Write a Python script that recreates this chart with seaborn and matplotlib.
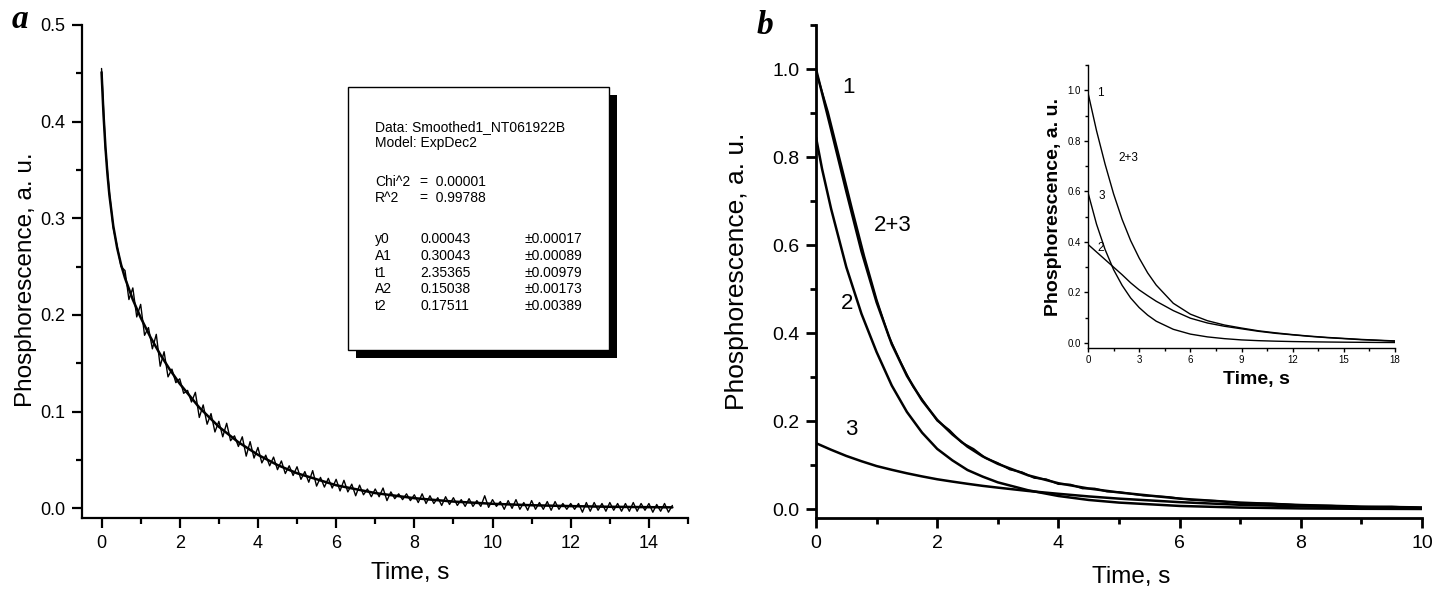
import numpy as np
import pandas as pd
import matplotlib
matplotlib.use("Agg")
import matplotlib.pyplot as plt
import matplotlib.patheffects as pe
from matplotlib.patches import Rectangle
from matplotlib.ticker import MultipleLocator
import seaborn as sns

# ---- panel a: smoothed decay data ----
t_data = [0.0, 0.1, 0.2, 0.3, 0.4, 0.5, 0.6, 0.7, 0.8, 0.9,
          1.0, 1.1, 1.2, 1.3, 1.4, 1.5, 1.6, 1.7, 1.8, 1.9,
          2.0, 2.1, 2.2, 2.3, 2.4, 2.5, 2.6, 2.7, 2.8, 2.9,
          3.0, 3.1, 3.2, 3.3, 3.4, 3.5, 3.6, 3.7, 3.8, 3.9,
          4.0, 4.1, 4.2, 4.3, 4.4, 4.5, 4.6, 4.7, 4.8, 4.9,
          5.0, 5.1, 5.2, 5.3, 5.4, 5.5, 5.6, 5.7, 5.8, 5.9,
          6.0, 6.1, 6.2, 6.3, 6.4, 6.5, 6.6, 6.7, 6.8, 6.9,
          7.0, 7.1, 7.2, 7.3, 7.4, 7.5, 7.6, 7.7, 7.8, 7.9,
          8.0, 8.1, 8.2, 8.3, 8.4, 8.5, 8.6, 8.7, 8.8, 8.9,
          9.0, 9.1, 9.2, 9.3, 9.4, 9.5, 9.6, 9.7, 9.8, 9.9,
          10.0, 10.1, 10.2, 10.3, 10.4, 10.5, 10.6, 10.7, 10.8, 10.9,
          11.0, 11.1, 11.2, 11.3, 11.4, 11.5, 11.6, 11.7, 11.8, 11.9,
          12.0, 12.1, 12.2, 12.3, 12.4, 12.5, 12.6, 12.7, 12.8, 12.9,
          13.0, 13.1, 13.2, 13.3, 13.4, 13.5, 13.6, 13.7, 13.8, 13.9,
          14.0, 14.1, 14.2, 14.3, 14.4, 14.5, 14.6]
y_data = [0.455, 0.372, 0.327, 0.290, 0.271, 0.250, 0.246, 0.216, 0.228, 0.198,
          0.211, 0.179, 0.187, 0.165, 0.180, 0.147, 0.162, 0.136, 0.144, 0.130,
          0.134, 0.119, 0.122, 0.110, 0.120, 0.094, 0.107, 0.087, 0.098, 0.079,
          0.090, 0.074, 0.088, 0.070, 0.075, 0.064, 0.074, 0.054, 0.069, 0.052,
          0.063, 0.047, 0.055, 0.044, 0.053, 0.040, 0.049, 0.036, 0.044, 0.034,
          0.043, 0.030, 0.038, 0.027, 0.039, 0.023, 0.032, 0.022, 0.031, 0.021,
          0.030, 0.018, 0.029, 0.017, 0.025, 0.013, 0.024, 0.014, 0.020, 0.012,
          0.020, 0.012, 0.021, 0.008, 0.017, 0.010, 0.015, 0.009, 0.015, 0.008,
          0.014, 0.006, 0.015, 0.005, 0.013, 0.005, 0.011, 0.003, 0.012, 0.004,
          0.011, 0.003, 0.009, 0.002, 0.010, 0.002, 0.008, 0.002, 0.013, 0.001,
          0.009, 0.002, 0.007, -0.001, 0.008, 0.000, 0.009, -0.001, 0.006, -0.002,
          0.008, -0.001, 0.006, -0.001, 0.007, -0.002, 0.007, -0.001, 0.005, -0.001,
          0.005, -0.001, 0.005, -0.004, 0.006, -0.003, 0.006, -0.002, 0.005, -0.003,
          0.006, -0.002, 0.005, -0.003, 0.005, -0.003, 0.006, -0.003, 0.005, -0.002,
          0.005, -0.004, 0.004, -0.003, 0.005, -0.004, 0.003]

# ExpDec2 fit curve
t_fit = [0, 0.05, 0.1, 0.15, 0.2, 0.3, 0.4, 0.5, 0.6, 0.8, 1.0, 1.25, 1.5, 1.75,
         2.0, 2.5, 3.0, 3.5, 4.0, 4.5, 5, 6, 7, 8, 9, 10, 11, 12, 13, 14, 14.6]
y_fit = [0.4512, 0.4076, 0.3733, 0.3462, 0.3244, 0.2920, 0.2692, 0.2520, 0.2382,
         0.2159, 0.1974, 0.1771, 0.1593, 0.1433, 0.1289, 0.1043, 0.0844, 0.0684,
         0.0554, 0.0448, 0.0363, 0.0239, 0.0158, 0.0105, 0.0070, 0.0047, 0.0032,
         0.0023, 0.0016, 0.0012, 0.0010]

fit_lines = [("Data: Smoothed1_NT061922B", "", ""),
             ("Model: ExpDec2", "", ""),
             ("Chi^2", "=  0.00001", ""),
             ("R^2", "=  0.99788", ""),
             ("y0", "0.00043", "\u00b10.00017"),
             ("A1", "0.30043", "\u00b10.00089"),
             ("t1", "2.35365", "\u00b10.00979"),
             ("A2", "0.15038", "\u00b10.00173"),
             ("t2", "0.17511", "\u00b10.00389")]

# ---- panel b: decay components ----
t_b = [0, 0.1, 0.25, 0.5, 0.75, 1.0, 1.25, 1.5, 1.75, 2.0, 2.25, 2.5, 2.75,
       3.0, 3.5, 4.0, 4.5, 5.0, 6.0, 7.0, 8.0, 9.0, 10.0]
y_sum = [1.0, 0.945, 0.862, 0.722, 0.586, 0.47, 0.375, 0.303, 0.247, 0.203, 0.170,
         0.142, 0.120, 0.103, 0.077, 0.059, 0.047, 0.038, 0.024, 0.015, 0.0095,
         0.006, 0.004]
y_comp2 = [0.845, 0.773, 0.682, 0.550, 0.444, 0.357, 0.281, 0.221, 0.174, 0.137,
           0.111, 0.089, 0.074, 0.061, 0.043, 0.030, 0.021, 0.015, 0.0074, 0.0037,
           0.0018, 0.0009, 0.0005]
y_comp3 = [0.150, 0.144, 0.135, 0.121, 0.109, 0.098, 0.0895, 0.0816, 0.0745,
           0.068, 0.0627, 0.0577, 0.053, 0.049, 0.0414, 0.035, 0.029, 0.024,
           0.016, 0.010, 0.0065, 0.004, 0.0025]

t_meas = [0.0, 0.2, 0.4, 0.6, 0.8, 1.0, 1.2, 1.4, 1.6, 1.8, 2.0, 2.2, 2.4, 2.6,
          2.8, 3.0, 3.2, 3.4, 3.6, 3.8, 4.0, 4.2, 4.4, 4.6, 4.8, 5.0, 5.4, 5.8,
          6.2, 6.6, 7.0, 7.5, 8.0, 8.5, 9.0, 9.5, 10.0]
y_meas = [0.995, 0.902, 0.792, 0.681, 0.574, 0.477, 0.393, 0.333, 0.279, 0.240,
          0.201, 0.180, 0.152, 0.137, 0.116, 0.105, 0.090, 0.084, 0.071, 0.068,
          0.057, 0.056, 0.047, 0.047, 0.040, 0.039, 0.031, 0.028, 0.021, 0.019,
          0.014, 0.013, 0.009, 0.008, 0.005, 0.006, 0.003]

# ---- inset ----
t_in = [0, 0.5, 1, 1.5, 2, 2.5, 3, 3.5, 4, 5, 6, 7, 8, 9, 10, 11, 12, 13, 14,
        15, 16, 17, 18]
y_in_sum = [0.99, 0.84, 0.708, 0.59, 0.489, 0.405, 0.336, 0.277, 0.229, 0.157,
            0.114, 0.088, 0.071, 0.059, 0.048, 0.040, 0.033, 0.027, 0.022,
            0.018, 0.014, 0.011, 0.008]
y_in_2 = [0.39, 0.36, 0.33, 0.30, 0.27, 0.238, 0.21, 0.187, 0.165, 0.128, 0.098,
          0.079, 0.066, 0.056, 0.046, 0.038, 0.032, 0.026, 0.021, 0.017, 0.013,
          0.010, 0.007]
y_in_3 = [0.595, 0.47, 0.37, 0.29, 0.228, 0.178, 0.14, 0.11, 0.086, 0.054,
          0.035, 0.024, 0.017, 0.012, 0.009, 0.007, 0.0055, 0.0045, 0.0037,
          0.003, 0.0025, 0.002, 0.0017]

sns.set_theme(style="ticks")
plt.rcParams["font.family"] = ["Liberation Sans", "DejaVu Sans"]
plt.rcParams["text.color"] = "black"
plt.rcParams["axes.labelcolor"] = "black"

W, H = 1453, 597
fig = plt.figure(figsize=(W / 100, H / 100), dpi=100)
ax_a = fig.add_axes([82 / W, 1 - 518 / H, 606 / W, 493 / H])
ax_b = fig.add_axes([816 / W, 1 - 518 / H, 606 / W, 493 / H])
ax_in = fig.add_axes([1088 / W, 1 - 348 / H, 307 / W, 283 / H])


def style_axis(ax, lw, major_len, minor_len, size, pad):
    sns.despine(ax=ax)
    for s in ("left", "bottom"):
        ax.spines[s].set_linewidth(lw)
        ax.spines[s].set_color("black")
    ax.tick_params(which="major", direction="out", length=major_len, width=lw,
                   labelsize=size, colors="black", pad=pad)
    ax.tick_params(which="minor", direction="out", length=minor_len, width=lw,
                   colors="black")
    ax.set_facecolor("white")


# panel a
sns.lineplot(x=t_data, y=y_data, ax=ax_a, color="black", lw=1.0, sort=False)
sns.lineplot(x=t_fit, y=y_fit, ax=ax_a, color="black", lw=1.8, sort=False)
ax_a.set_xlim(-0.5, 15)
ax_a.set_ylim(-0.01, 0.5)
ax_a.xaxis.set_major_locator(MultipleLocator(2))
ax_a.xaxis.set_minor_locator(MultipleLocator(1))
ax_a.yaxis.set_major_locator(MultipleLocator(0.1))
ax_a.yaxis.set_minor_locator(MultipleLocator(0.05))
ax_a.yaxis.set_major_formatter(plt.FormatStrFormatter("%.1f"))
style_axis(ax_a, 1.6, 7, 4, 13, 5)
ax_a.set_xlabel("Time, s", fontsize=17.5)
ax_a.set_ylabel("Phosphorescence, a. u.", fontsize=17.5)
ax_a.xaxis.set_label_coords(0.541, -0.09)
ax_a.yaxis.set_label_coords(-0.075, 0.483)

# fit-result box with shadow
box = Rectangle((0.439, 0.341), 0.431, 0.533, transform=ax_a.transAxes,
                facecolor="white", edgecolor="black", lw=1.0, zorder=5)
box.set_path_effects([pe.SimplePatchShadow(offset=(5.5, -5.5), shadow_rgbFace="black",
                                           alpha=1.0), pe.Normal()])
ax_a.add_patch(box)
rows_y = [0.793, 0.761, 0.682, 0.649, 0.566, 0.531, 0.497, 0.465, 0.430]
for (c1, c2, c3), yy in zip(fit_lines, rows_y):
    ax_a.text(0.4835, yy, c1, transform=ax_a.transAxes, fontsize=10,
              va="center", ha="left", zorder=6)
    ax_a.text(0.558, yy, c2, transform=ax_a.transAxes, fontsize=10,
              va="center", ha="left", zorder=6)
    ax_a.text(0.731, yy, c3, transform=ax_a.transAxes, fontsize=10,
              va="center", ha="left", zorder=6)

# panel b
sns.lineplot(x=t_meas, y=y_meas, ax=ax_b, color="black", lw=1.3, sort=False)
sns.lineplot(x=t_b, y=y_sum, ax=ax_b, color="black", lw=1.8, sort=False)
sns.lineplot(x=t_b, y=y_comp2, ax=ax_b, color="black", lw=1.8, sort=False)
sns.lineplot(x=t_b, y=y_comp3, ax=ax_b, color="black", lw=1.8, sort=False)
ax_b.set_xlim(0, 10)
ax_b.set_ylim(-0.02, 1.1)
ax_b.xaxis.set_major_locator(MultipleLocator(2))
ax_b.xaxis.set_minor_locator(MultipleLocator(1))
ax_b.yaxis.set_major_locator(MultipleLocator(0.2))
ax_b.yaxis.set_minor_locator(MultipleLocator(0.1))
ax_b.yaxis.set_major_formatter(plt.FormatStrFormatter("%.1f"))
style_axis(ax_b, 2.0, 7, 4, 14, 5)
ax_b.set_xlabel("Time, s", fontsize=17.5)
ax_b.set_ylabel("Phosphorescence, a. u.", fontsize=19)
ax_b.xaxis.set_label_coords(0.52, -0.097)
ax_b.yaxis.set_label_coords(-0.11, 0.5)
for txt, xx, yy in [("1", 0.53, 0.957), ("2+3", 1.27, 0.645), ("2", 0.51, 0.468),
                    ("3", 0.58, 0.18)]:
    ax_b.text(xx, yy, txt, fontsize=16, ha="center", va="center")

# inset
for yy in (y_in_sum, y_in_2, y_in_3):
    sns.lineplot(x=t_in, y=yy, ax=ax_in, color="black", lw=1.0, sort=False)
ax_in.set_xlim(0, 18)
ax_in.set_ylim(-0.02, 1.1)
ax_in.xaxis.set_major_locator(MultipleLocator(3))
ax_in.xaxis.set_minor_locator(MultipleLocator(1.5))
ax_in.yaxis.set_major_locator(MultipleLocator(0.2))
ax_in.yaxis.set_minor_locator(MultipleLocator(0.1))
ax_in.yaxis.set_major_formatter(plt.FormatStrFormatter("%.1f"))
style_axis(ax_in, 1.0, 3, 2, 7, 2)
for lab in ax_in.get_xticklabels() + ax_in.get_yticklabels():
    lab.set_family(["Liberation Sans Narrow", "Liberation Sans"])
ax_in.patch.set_alpha(0)
ax_in.set_xlabel("Time, s", fontsize=14, fontweight="bold")
ax_in.set_ylabel("Phosphorescence, a. u.", fontsize=14, fontweight="bold")
ax_in.xaxis.set_label_coords(0.55, -0.08)
ax_in.yaxis.set_label_coords(-0.085, 0.5)
for txt, xx, yy in [("1", 0.55, 0.99), ("2+3", 1.76, 0.733), ("3", 0.6, 0.58),
                    ("2", 0.55, 0.375)]:
    ax_in.text(xx, yy, txt, fontsize=8.5, ha="left", va="center")

# panel letters
fig.text(20 / W, 1 - 20 / H, "a", fontsize=24, fontweight="bold", fontstyle="italic",
         family="Liberation Serif", ha="center", va="center")
fig.text(765 / W, 1 - 25 / H, "b", fontsize=24, fontweight="bold", fontstyle="italic",
         family="Liberation Serif", ha="center", va="center")

fig.savefig("out.png", dpi=100, facecolor="white")
